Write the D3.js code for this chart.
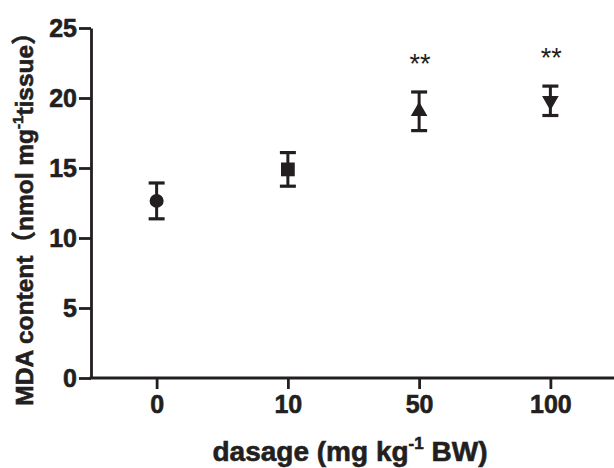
<!DOCTYPE html>
<html>
<head>
<meta charset="utf-8">
<script src="https://cdn.jsdelivr.net/npm/d3@7"></script>
<style>
  html, body { margin: 0; padding: 0; background: #fff; }
  svg { display: block; }
  text { fill: #231f20; }
</style>
</head>
<body>
<svg id="chart" width="614" height="468"></svg>
<script>
// ---- data ----
const categories = ["0", "10", "50", "100"];
const means = [12.65, 14.9, 19.05, 19.8];
const errors = [1.28, 1.2, 1.38, 1.05];
const markers = ["circle", "square", "triangle", "triangleDown"];
const significance = ["", "", "**", "**"];
const yTicks = [0, 5, 10, 15, 20, 25];

// ---- layout ----
const svg = d3.select("#chart");
const ink = "#231f20";
const mLeft = 91, mRight = 616, mTop = 28, mBottom = 378;

const x = d3.scalePoint().domain(categories).range([mLeft, mRight]).padding(0.5);
const y = d3.scaleLinear().domain([0, 25]).range([mBottom, mTop]);

const font = "'Liberation Sans', Arial, 'Noto Sans CJK SC', sans-serif";

function boldText(sel, size) {
  sel.attr("font-family", font).attr("font-weight", "bold").attr("font-size", size)
    .attr("fill", ink).attr("stroke", ink).attr("stroke-width", 0.6);
}

// Y axis
const yAxis = svg.append("g")
  .attr("transform", `translate(${mLeft},0)`)
  .call(d3.axisLeft(y).tickValues(yTicks).tickSize(12).tickPadding(2).tickSizeOuter(0));
yAxis.select(".domain").attr("stroke", ink).attr("stroke-width", 2.8);
yAxis.selectAll(".tick line").attr("stroke", ink).attr("stroke-width", 2.8);
boldText(yAxis.selectAll(".tick text"), 25);

// X axis
const xAxis = svg.append("g")
  .attr("transform", `translate(0,${mBottom})`)
  .call(d3.axisBottom(x).tickSize(11).tickPadding(6).tickSizeOuter(0));
xAxis.select(".domain").attr("stroke", ink).attr("stroke-width", 2.8)
  .attr("d", `M${mLeft - 1.4},0H${mRight}`);
xAxis.selectAll(".tick line").attr("stroke", ink).attr("stroke-width", 2.8);
boldText(xAxis.selectAll(".tick text"), 25);

// Data
const data = categories.map((c, i) => ({
  c, m: means[i], e: errors[i], marker: markers[i], sig: significance[i]
}));

const capW = 8;
const g = svg.append("g");
data.forEach(d => {
  const cx = x(d.c);
  const yHi = y(d.m + d.e), yLo = y(d.m - d.e), yM = y(d.m);
  g.append("line").attr("x1", cx).attr("x2", cx).attr("y1", yHi).attr("y2", yLo)
    .attr("stroke", ink).attr("stroke-width", 3);
  [yHi, yLo].forEach(yy => {
    g.append("line").attr("x1", cx - capW).attr("x2", cx + capW).attr("y1", yy).attr("y2", yy)
      .attr("stroke", ink).attr("stroke-width", 3.2);
  });
  let sym;
  if (d.marker === "circle") sym = d3.symbol(d3.symbolCircle, 155);
  else if (d.marker === "square") sym = d3.symbol(d3.symbolSquare, 190);
  else sym = d3.symbol(d3.symbolTriangle, 120);
  const rot = d.marker === "triangleDown" ? 180 : 0;
  g.append("path").attr("d", sym())
    .attr("transform", `translate(${cx},${yM}) rotate(${rot})`)
    .attr("fill", ink);
  if (d.sig) {
    g.append("text").attr("x", cx + 1).attr("y", yHi - 19)
      .attr("text-anchor", "middle").attr("font-family", font)
      .attr("font-size", 27).attr("fill", ink).text(d.sig);
  }
});

// Axis titles
const yt = svg.append("text")
  .attr("transform", "translate(33,213) rotate(-90)")
  .attr("text-anchor", "middle");
boldText(yt, 24.5);
yt.append("tspan").text("MDA content\uFF08nmol mg");
yt.append("tspan").attr("font-size", 15).attr("dy", -10).text("-1");
yt.append("tspan").attr("dy", 10).text("tissue\uFF09");

const xt = svg.append("text")
  .attr("x", 350).attr("y", 461)
  .attr("text-anchor", "middle");
boldText(xt, 28);
xt.append("tspan").text("dasage (mg kg");
xt.append("tspan").attr("font-size", 17).attr("dy", -12).text("-1");
xt.append("tspan").attr("dy", 12).text(" BW)");
</script>
</body>
</html>
